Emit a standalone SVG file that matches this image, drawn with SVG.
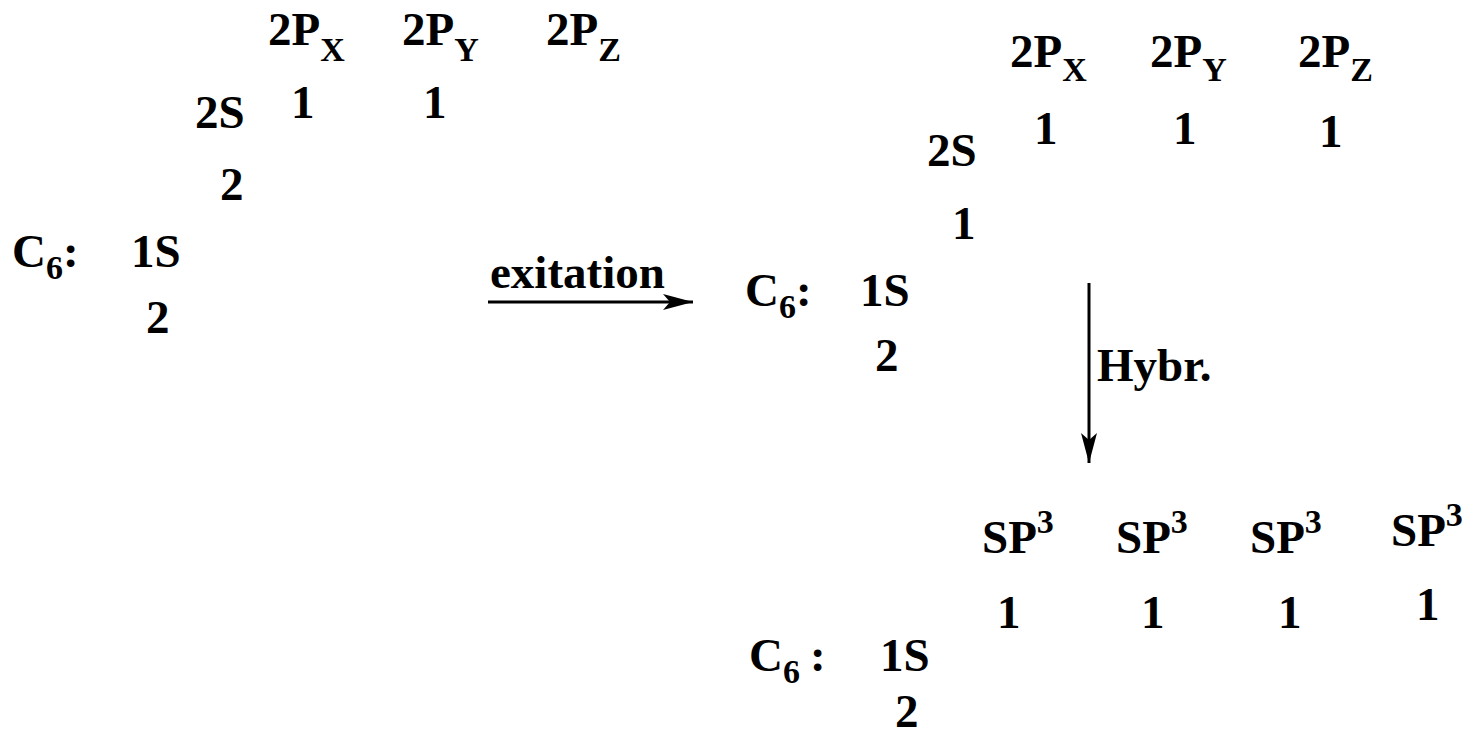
<svg xmlns="http://www.w3.org/2000/svg" width="1468" height="738" viewBox="0 0 1468 738">
<style>
text{font-family:"Liberation Serif","Times New Roman",serif;font-weight:bold;font-size:47px;fill:#000}
.sub{font-size:34px}
.con{stroke:#000;stroke-width:3;fill:none}
</style>
<defs>
<marker id="ah" viewBox="0 0 30 16" refX="30" refY="8" markerWidth="30" markerHeight="16" markerUnits="userSpaceOnUse" orient="auto">
<path d="M0,0 L30,8 L0,16 L7,8 z" fill="#000"/>
</marker>
</defs>
<rect width="1468" height="738" fill="#fff"/>
<g id="ground">
<text x="268" y="45">2P<tspan class="sub" dy="16">X</tspan></text>
<text x="402" y="45">2P<tspan class="sub" dy="16">Y</tspan></text>
<text x="546" y="45">2P<tspan class="sub" dy="16">Z</tspan></text>
<text x="195" y="128">2S</text>
<text x="291" y="118">1</text>
<text x="423" y="118">1</text>
<text x="220" y="200">2</text>
<text x="12" y="267">C<tspan class="sub" dy="12">6</tspan><tspan dy="-12">:</tspan></text>
<text x="131" y="267">1S</text>
<text x="146" y="333">2</text>
</g>
<g id="excited">
<text x="1010" y="67">2P<tspan class="sub" dy="14">X</tspan></text>
<text x="1150" y="67">2P<tspan class="sub" dy="14">Y</tspan></text>
<text x="1298" y="67">2P<tspan class="sub" dy="14">Z</tspan></text>
<text x="1034" y="144">1</text>
<text x="1173" y="144">1</text>
<text x="1319" y="147">1</text>
<text x="927" y="166">2S</text>
<text x="952" y="239">1</text>
<text x="745" y="306">C<tspan class="sub" dy="12">6</tspan><tspan dy="-12">:</tspan></text>
<text x="860" y="306">1S</text>
<text x="875" y="371">2</text>
</g>
<g id="hybrid">
<text x="982" y="553">SP<tspan class="sub" dy="-20">3</tspan></text>
<text x="1116" y="553">SP<tspan class="sub" dy="-20">3</tspan></text>
<text x="1250" y="553">SP<tspan class="sub" dy="-20">3</tspan></text>
<text x="1391" y="546">SP<tspan class="sub" dy="-20">3</tspan></text>
<text x="997" y="628">1</text>
<text x="1141" y="628">1</text>
<text x="1278" y="628">1</text>
<text x="1416" y="620">1</text>
<text x="749" y="671">C<tspan class="sub" dy="12">6</tspan><tspan dx="10" dy="-12">:</tspan></text>
<text x="880" y="671">1S</text>
<text x="895" y="727">2</text>
</g>
<g id="labels">
<text x="490" y="288">exitation</text>
<text x="1097" y="381">Hybr.</text>
</g>
<g id="connectors">
<line class="con" x1="488" y1="302" x2="693" y2="302" marker-end="url(#ah)"/>
<line class="con" x1="1089" y1="283" x2="1089" y2="463" stroke-width="2.5" marker-end="url(#ah)"/>
</g>
</svg>
